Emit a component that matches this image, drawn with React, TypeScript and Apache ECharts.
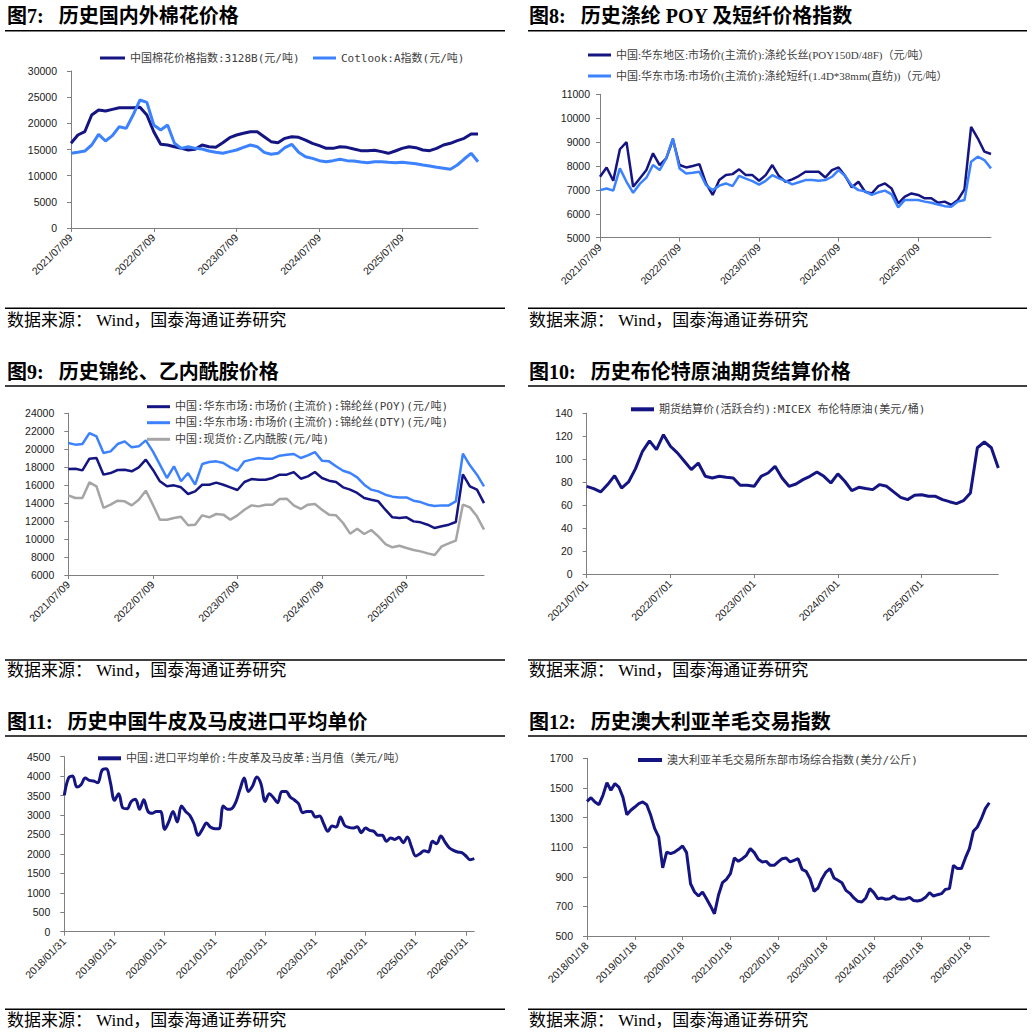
import React, { useEffect, useRef } from "react";
import * as echarts from "echarts";

function monthCats(y0: number, m0: number, n: number, day: number | "end"): string[] {
  const out: string[] = [];
  for (let i = 0; i < n; i++) {
    const t = m0 - 1 + i;
    const y = y0 + Math.floor(t / 12);
    const m = (t % 12) + 1;
    const d = day === "end" ? new Date(y, m, 0).getDate() : day;
    out.push(`${y}/${String(m).padStart(2, "0")}/${String(d).padStart(2, "0")}`);
  }
  return out;
}

// ---------- 图7 棉花 ----------
const cottonCats = monthCats(2021, 7, 60, 9);
const cnCotton = [16180, 17770, 18400, 21600, 22550, 22350, 22670, 22990, 22990, 22990, 23060, 21590, 18400, 15990, 15860, 15540, 15220, 14900, 15030, 15860, 15540, 15410, 16300, 17260, 17770, 18090, 18400, 18400, 17450, 16500, 16300, 17130, 17450, 17320, 16810, 16180, 15730, 15220, 15220, 15540, 15410, 15090, 14780, 14780, 14840, 14590, 14270, 14710, 15220, 15540, 15350, 14900, 14780, 15220, 15860, 16180, 16690, 17130, 17960, 17960];
const cotlookA = [14270, 14460, 14710, 15860, 17900, 16620, 17640, 19360, 19040, 21590, 24460, 24010, 19680, 18720, 19680, 16180, 15220, 15540, 15220, 15090, 14710, 14460, 14270, 14590, 14900, 15410, 15860, 15540, 14460, 14080, 14270, 15350, 15990, 14460, 13630, 13310, 12870, 12670, 12870, 13120, 12870, 12800, 12610, 12480, 12670, 12670, 12550, 12480, 12550, 12420, 12290, 12040, 11850, 11590, 11400, 11210, 12040, 13180, 14270, 12670];

// ---------- 图8 涤纶 ----------
const polyCats = monthCats(2021, 7, 60, 9);
const poyPrice = [7550, 7940, 7380, 8700, 9000, 7130, 7480, 7830, 8530, 8040, 8320, 9110, 8040, 7940, 8000, 8080, 7270, 6790, 7410, 7620, 7660, 7860, 7620, 7620, 7380, 7620, 8040, 7580, 7340, 7440, 7580, 7760, 7760, 7760, 7520, 7830, 7940, 7580, 7110, 7340, 6920, 6850, 7160, 7270, 7060, 6440, 6720, 6850, 6790, 6650, 6650, 6460, 6510, 6370, 6580, 7020, 9640, 9160, 8600, 8500];
const psfPrice = [6990, 7060, 6970, 7900, 7340, 6880, 7250, 7510, 8040, 7830, 8320, 9160, 7900, 7690, 7720, 7760, 7200, 6990, 7180, 7270, 7160, 7590, 7470, 7370, 7220, 7380, 7620, 7480, 7380, 7230, 7320, 7410, 7410, 7380, 7410, 7550, 7830, 7580, 7180, 6990, 6940, 6790, 6900, 6970, 6810, 6270, 6580, 6580, 6580, 6510, 6460, 6390, 6320, 6300, 6510, 6580, 8180, 8390, 8250, 7900];

// ---------- 图9 锦纶 ----------
const nylonCats = monthCats(2021, 7, 60, 9);
const nylonPoy = [17800, 17830, 17650, 18950, 19020, 17170, 17350, 17690, 17720, 17540, 17980, 18840, 17720, 16430, 15870, 15980, 15760, 15020, 15310, 16050, 16050, 16280, 16050, 15760, 15460, 16350, 16680, 16610, 16610, 16800, 17170, 17170, 17460, 16720, 16980, 17460, 16800, 16500, 16350, 15760, 15500, 15130, 14570, 14380, 14200, 13270, 12420, 12340, 12420, 11970, 11860, 11600, 11230, 11420, 11600, 11900, 17200, 15870, 15500, 14010];
const nylonDty = [20690, 20510, 20580, 21800, 21430, 19580, 19760, 20580, 20880, 20210, 20320, 20990, 19760, 18280, 16800, 18100, 16430, 17350, 16050, 18350, 18580, 18650, 18470, 17980, 17610, 18650, 18840, 19020, 18950, 18950, 19280, 19390, 19470, 19020, 19320, 19690, 18730, 18650, 18100, 17610, 17350, 16870, 16050, 15500, 15310, 14940, 14720, 14640, 14640, 14270, 14120, 13830, 13680, 13750, 13750, 14200, 19500, 18210, 17170, 15870];
const caprolactam = [14870, 14570, 14570, 16310, 15870, 13460, 13830, 14270, 14200, 13750, 14380, 15390, 13830, 12160, 12160, 12340, 12490, 11530, 11600, 12640, 12420, 12790, 12720, 12160, 12640, 13270, 13750, 13640, 13830, 13830, 14460, 14500, 13750, 13350, 13830, 13900, 13270, 12720, 12640, 11790, 10600, 11160, 10560, 11010, 10300, 9450, 9080, 9260, 9000, 8780, 8630, 8410, 8230, 9190, 9520, 9820, 13830, 13530, 12530, 11050];

// ---------- 图10 布伦特 ----------
const brentCats = monthCats(2021, 7, 60, 1);
const brentPrice = [76.4, 74.4, 71.5, 77.9, 85.7, 74.9, 80.2, 91.8, 106.9, 116.0, 108.4, 121.4, 111.3, 105.5, 98.2, 90.9, 96.7, 85.1, 83.7, 85.1, 84.2, 83.7, 77.3, 77.3, 76.4, 85.1, 88.0, 93.8, 83.7, 76.4, 78.4, 82.2, 85.1, 88.9, 85.1, 79.3, 87.2, 80.8, 72.6, 75.5, 74.4, 73.5, 77.9, 76.4, 71.5, 66.8, 64.8, 68.6, 69.1, 67.7, 67.7, 64.8, 63.0, 61.3, 63.9, 70.6, 110.0, 115.0, 110.0, 92.4];

// ---------- 图11 牛皮 ----------
const hideCats = monthCats(2018, 1, 99, "end");
const hidePrice = [3506, 3951, 4003, 3720, 3780, 3951, 3891, 3874, 3831, 4148, 4191, 3848, 3377, 3548, 3180, 3163, 3351, 3403, 3146, 3394, 3094, 3043, 3094, 3094, 2631, 2837, 3094, 2820, 3231, 3094, 2991, 2777, 2477, 2631, 2794, 2683, 2648, 2648, 3231, 3146, 3163, 3334, 3660, 3951, 3608, 3746, 3977, 3806, 3351, 3548, 3446, 3317, 3608, 3608, 3463, 3386, 3291, 3060, 3094, 3094, 2948, 2974, 2777, 2580, 2717, 2691, 2948, 2734, 2683, 2666, 2700, 2546, 2666, 2606, 2580, 2477, 2477, 2323, 2409, 2374, 2426, 2289, 2434, 2177, 1946, 2006, 2083, 2049, 2323, 2263, 2460, 2306, 2160, 2091, 2049, 2031, 1946, 1851, 1877];

// ---------- 图12 羊毛 ----------
const woolCats = monthCats(2018, 1, 102, 18);
const woolIndex = [1409, 1434, 1405, 1387, 1450, 1535, 1484, 1529, 1506, 1439, 1319, 1349, 1371, 1394, 1405, 1387, 1315, 1225, 1169, 960, 1067, 1056, 1067, 1085, 1108, 1063, 853, 797, 770, 797, 752, 703, 650, 775, 860, 883, 921, 1027, 1004, 1022, 1045, 1090, 1063, 1018, 1000, 1004, 977, 977, 1000, 1022, 1027, 1000, 1011, 1022, 950, 937, 887, 802, 824, 887, 932, 955, 892, 876, 860, 808, 788, 757, 734, 730, 757, 820, 793, 752, 757, 748, 752, 770, 752, 748, 750, 761, 739, 736, 743, 761, 793, 770, 779, 786, 815, 820, 977, 955, 955, 1027, 1090, 1207, 1236, 1292, 1360, 1400];
const woolTicks = [500, 700, 900, 1100, 1300, 1500, 1700];

const NAVY = "#141482";
const LIGHT = "#3c82ff";
const GREY = "#a5a5a5";
const AXIS = "#7f7f7f";
const MONO = '"DejaVu Sans Mono", "Noto Sans CJK SC", sans-serif';
const SERIF = '"Liberation Serif", "Noto Sans CJK SC", serif';
const SANS = '"Liberation Sans", Arial, sans-serif';

type S = { name: string; data: number[]; color: string; width: number; smooth?: boolean; lx: number; ly: number; iw: number; ih: number; font: string };
type P = {
  left: number; top: number; width: number; height: number;
  cats: string[]; min: number; max: number; interval?: number; ticks?: number[]; labelMargin: number;
  series: S[];
};

const panels: P[] = [
  {
    left: 71, top: 71, width: 407, height: 157, cats: cottonCats, min: 0, max: 30000, interval: 5000, labelMargin: 14,
    series: [
      { name: "中国棉花价格指数:3128B(元/吨)", data: cnCotton, color: NAVY, width: 3, lx: 100, ly: 58, iw: 25, ih: 3, font: MONO },
      { name: "Cotlook:A指数(元/吨)", data: cotlookA, color: LIGHT, width: 3, lx: 313, ly: 58, iw: 23, ih: 3, font: MONO },
    ],
  },
  {
    left: 600, top: 94.3, width: 391, height: 143.4, cats: polyCats, min: 5000, max: 11000, interval: 1000, labelMargin: 10,
    series: [
      { name: "中国:华东地区:市场价(主流价):涤纶长丝(POY150D/48F)（元/吨）", data: poyPrice, color: NAVY, width: 2.5, lx: 588, ly: 55, iw: 23, ih: 3, font: SERIF },
      { name: "中国:华东市场:市场价(主流价):涤纶短纤(1.4D*38mm(直纺))（元/吨）", data: psfPrice, color: LIGHT, width: 2.5, lx: 588, ly: 76, iw: 23, ih: 3, font: SERIF },
    ],
  },
  {
    left: 68.3, top: 413.3, width: 415.7, height: 161.7, cats: nylonCats, min: 6000, max: 24000, interval: 2000, labelMargin: 14,
    series: [
      { name: "中国:华东市场:市场价(主流价):锦纶丝(POY)(元/吨)", data: nylonPoy, color: NAVY, width: 2.5, lx: 147, ly: 406.7, iw: 23, ih: 3, font: MONO },
      { name: "中国:华东市场:市场价(主流价):锦纶丝(DTY)(元/吨)", data: nylonDty, color: LIGHT, width: 2.5, lx: 147, ly: 422.7, iw: 23, ih: 3, font: MONO },
      { name: "中国:现货价:乙内酰胺(元/吨)", data: caprolactam, color: GREY, width: 2.5, lx: 147, ly: 439.3, iw: 23, ih: 3, font: MONO },
    ],
  },
  {
    left: 586.7, top: 413.3, width: 411.6, height: 160.7, cats: brentCats, min: 0, max: 140, interval: 20, labelMargin: 14,
    series: [
      { name: "期货结算价(活跃合约):MICEX 布伦特原油(美元/桶)", data: brentPrice, color: NAVY, width: 3, lx: 631, ly: 409.3, iw: 23, ih: 4, font: MONO },
    ],
  },
  {
    left: 64.3, top: 756.7, width: 410, height: 175, cats: hideCats, min: 0, max: 4500, interval: 500, labelMargin: 14,
    series: [
      { name: "中国:进口平均单价:牛皮革及马皮革:当月值（美元/吨）", data: hidePrice, color: NAVY, width: 3, smooth: true, lx: 98, ly: 758.3, iw: 23, ih: 4, font: MONO },
    ],
  },
  {
    left: 587, top: 758.3, width: 402.3, height: 177.7, cats: woolCats, min: 500, max: 1700, ticks: woolTicks, labelMargin: 14,
    series: [
      { name: "澳大利亚羊毛交易所东部市场综合指数(美分/公斤)", data: woolIndex, color: NAVY, width: 3, lx: 638, ly: 760, iw: 24, ih: 4, font: MONO },
    ],
  },
];

const titles = [
  { text: "图7:   历史国内外棉花价格", x: 7, y: 16 },
  { text: "图8:   历史涤纶 POY 及短纤价格指数", x: 529, y: 16 },
  { text: "图9:   历史锦纶、乙内酰胺价格", x: 7, y: 371.7 },
  { text: "图10:   历史布伦特原油期货结算价格", x: 529, y: 371.7 },
  { text: "图11:   历史中国牛皮及马皮进口平均单价", x: 7, y: 721.7 },
  { text: "图12:   历史澳大利亚羊毛交易指数", x: 529, y: 721.7 },
];
const SOURCE = "数据来源： Wind，国泰海通证券研究";
const rows = [
  { titleRule: 30.7, bottomRule: 308.3, source: 320 },
  { titleRule: 386, bottomRule: 660, source: 670 },
  { titleRule: 736, bottomRule: 1009.3, source: 1020 },
];

export default function App() {
  const ref = useRef<HTMLDivElement>(null);
  useEffect(() => {
    if (!ref.current) return;
    const chart = echarts.init(ref.current, undefined, { renderer: "svg" });

    const grid: any[] = [];
    const xAxis: any[] = [];
    const yAxis: any[] = [];
    const series: any[] = [];
    const legend: any[] = [];

    panels.forEach((p, i) => {
      grid.push({ left: p.left, top: p.top, width: p.width, height: p.height, containLabel: false, outerBoundsMode: "none" });
      xAxis.push({
        type: "category", gridIndex: i, data: p.cats, boundaryGap: false,
        axisLine: { show: true, lineStyle: { color: AXIS, width: 1 } },
        axisTick: { show: true, interval: 11, length: 4, lineStyle: { color: AXIS } },
        axisLabel: { interval: 11, rotate: 45, margin: 8, fontSize: 10.5, fontFamily: SANS, color: "#1a1a1a" },
        splitLine: { show: false },
      });
      const y: any = {
        type: "value", gridIndex: i, min: p.min, max: p.max,
        axisLine: { show: true, lineStyle: { color: AXIS, width: 1 } },
        axisTick: { show: true, length: 4, lineStyle: { color: AXIS } },
        axisLabel: { margin: p.labelMargin, fontSize: 10.5, fontFamily: SANS, color: "#1a1a1a", formatter: (v: number) => String(v) },
        splitLine: { show: false },
      };
      if (p.interval) y.interval = p.interval;
      if (p.ticks) {
        y.axisLabel.customValues = p.ticks;
        y.axisTick.customValues = p.ticks;
      }
      yAxis.push(y);
      p.series.forEach((s) => {
        series.push({
          type: "line", name: s.name, xAxisIndex: i, yAxisIndex: i, data: s.data,
          showSymbol: false, symbol: "none", smooth: s.smooth ? 0.35 : false,
          lineStyle: { color: s.color, width: s.width }, itemStyle: { color: s.color },
          emphasis: { disabled: true }, silent: true,
        });
        legend.push({
          show: true, left: s.lx, top: s.ly - 7, padding: 0, itemGap: 0, icon: "rect",
          itemWidth: s.iw, itemHeight: s.ih, data: [s.name], selectedMode: false,
          textStyle: { fontSize: 11, fontFamily: s.font, color: "#404040", lineHeight: 14 },
        });
      });
    });

    const graphic: any[] = [];
    titles.forEach((t) => {
      graphic.push({
        type: "text", x: t.x, y: t.y,
        style: { text: t.text, fontSize: 20, fontWeight: "bold", fontFamily: SERIF, fill: "#000", verticalAlign: "middle", align: "left" },
      });
    });
    rows.forEach((r) => {
      [[5, 505], [528, 1027]].forEach(([x1, x2], c) => {
        graphic.push({ type: "line", shape: { x1, y1: r.titleRule, x2, y2: r.titleRule }, style: { stroke: "#000", lineWidth: 1.5 } });
        graphic.push({ type: "line", shape: { x1, y1: r.bottomRule, x2, y2: r.bottomRule }, style: { stroke: "#000", lineWidth: 1.5 } });
        graphic.push({
          type: "text", x: c === 0 ? 7 : 529, y: r.source,
          style: { text: SOURCE, fontSize: 17, fontFamily: SERIF, fill: "#000", verticalAlign: "middle", align: "left" },
        });
      });
    });

    chart.setOption({
      animation: false,
      backgroundColor: "#ffffff",
      textStyle: { fontFamily: SANS },
      grid, xAxis, yAxis, series, legend, graphic,
    });
    return () => chart.dispose();
  }, []);
  return <div ref={ref} style={{ position: "absolute", left: 0, top: 0, width: 1032, height: 1033, background: "#fff" }} />;
}
